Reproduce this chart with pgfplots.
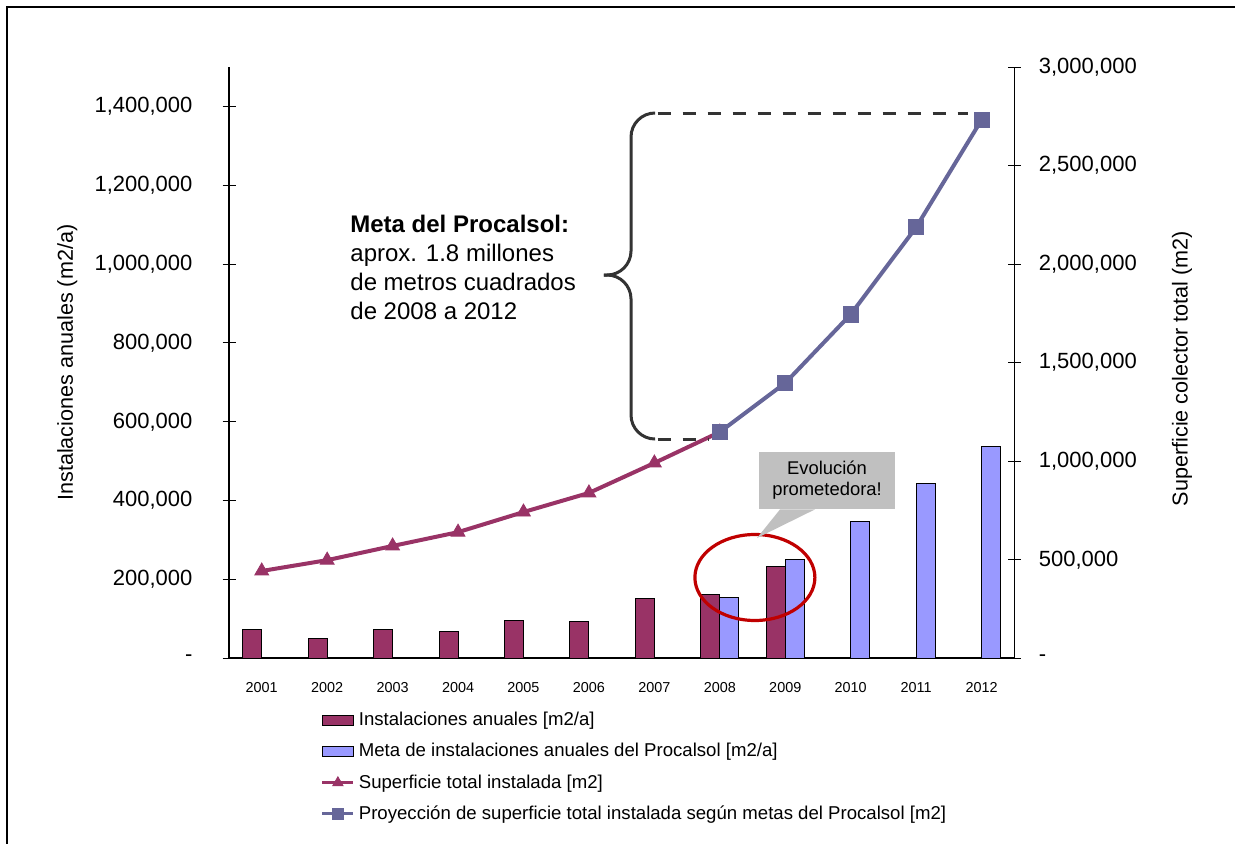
\documentclass[border=0pt]{standalone}
\usepackage{pgfplots}
\usepackage{pgfplotstable}
\pgfplotsset{compat=1.18}
\usepackage{fontspec}
\setmainfont{Liberation Sans}
\definecolor{barA}{HTML}{993366}
\definecolor{barB}{HTML}{9999FF}
\definecolor{lineB}{HTML}{666699}
\definecolor{callg}{HTML}{C0C0C0}
\definecolor{ringred}{HTML}{C00000}
\definecolor{darkg}{HTML}{333333}

\pgfplotstableread{
x inst
0 73600
1 49000
2 73600
3 67500
4 96400
5 93900
6 151000
7 162400
8 231700
}\inst
\pgfplotstableread{
x meta
7 153800
8 249500
9 346700
10 442400
11 538100
}\meta
\pgfplotstableread{
x sup
0 443000
1 498000
2 570000
3 640000
4 742000
5 839000
6 991000
7 1148000
}\sup
\pgfplotstableread{
x proy
7 1148000
8 1397000
9 1745000
10 2187000
11 2732000
}\proy

\pgfplotsset{
 common/.style={
  at={(114.5pt,92.35pt)}, anchor=south west,
  scale only axis, width=392.65pt, height=295.65pt,
  xmin=-0.5, xmax=11.5,
  ytick align=center, major tick length=6.5pt,
  tick style={black, line width=0.5pt},
  scaled y ticks=false,
  /pgf/number format/assume math mode=true,
 }
}

\begin{document}
\begin{tikzpicture}
\useasboundingbox (0,0) rectangle (617.5pt,421.5pt);
\draw[line width=0.8pt] (3.5pt,-20pt) -- (3.5pt,418pt) -- (617.5pt,418pt);

\begin{axis}[common,
  axis x line*=bottom, axis y line*=left,
  axis line style={line width=1pt},
  ymin=0, ymax=1500000,
  ytick={0,200000,400000,600000,800000,1000000,1200000,1400000},
  yticklabels={{-\hspace{7pt}},{200,000},{400,000},{600,000},{800,000},{1,000,000},{1,200,000},{1,400,000}},
  yticklabel style={font=\fontsize{11}{13}\selectfont, xshift=-11.5pt},
  xtick={0,1,2,3,4,5,6,7,8,9,10,11},
  xticklabels={2001,2002,2003,2004,2005,2006,2007,2008,2009,2010,2011,2012},
  xtick style={draw=none},
  minor xtick={-0.5,0.5,1.5,2.5,3.5,4.5,5.5,6.5,7.5,8.5,9.5,10.5,11.5},
  minor tick length=5pt,
  xtick align=center,
  minor x tick style={black, line width=0.5pt},
  xticklabel style={font=\fontsize{7.2}{8}\selectfont, yshift=-2pt},
  ylabel={Instalaciones anuales (m2/a)},
  every axis y label/.style={at={(axis description cs:-0.206,0.5)}, rotate=90, anchor=center, font=\fontsize{10.8}{12}\selectfont},
  ybar=0pt, bar width=9.5pt,
]
\addplot[fill=barA, draw=black, line width=0.5pt] table[x=x,y=inst]{\inst};
\addplot[fill=barB, draw=black, line width=0.5pt] table[x=x,y=meta]{\meta};
\draw[ringred, line width=1.6pt] (axis cs:7.536,205000) ellipse [x radius=30pt, y radius=21.5pt];
\end{axis}

\begin{axis}[common,
  axis x line=none, axis y line*=right,
  axis line style={line width=0.7pt},
  ymin=0, ymax=3000000,
  ytick={0,500000,1000000,1500000,2000000,2500000,3000000},
  yticklabels={-,{500,000},{1,000,000},{1,500,000},{2,000,000},{2,500,000},{3,000,000}},
  yticklabel style={font=\fontsize{11}{13}\selectfont, xshift=5.5pt},
  ylabel={Superficie colector total (m2)},
  every axis y label/.style={at={(axis description cs:1.2135,0.49)}, rotate=90, anchor=center, font=\fontsize{10.8}{12}\selectfont},
  clip=false,
  legend style={at={(axis description cs:0.1165,-0.084)}, anchor=north west, draw=none, fill=none,
    font=\fontsize{9.3}{10.5}\selectfont, row sep=3.3pt, inner sep=0pt},
  legend cell align=left,
]
\addlegendimage{legend image code/.code={\draw[fill=barA, draw=black, line width=0.5pt] (0pt,-2.5pt) rectangle (15.5pt,2.5pt);}}
\addlegendentry{Instalaciones anuales [m2/a]}
\addlegendimage{legend image code/.code={\draw[fill=barB, draw=black, line width=0.5pt] (0pt,-2.5pt) rectangle (15.5pt,2.5pt);}}
\addlegendentry{Meta de instalaciones anuales del Procalsol [m2/a]}
\addlegendimage{legend image code/.code={\draw[barA, line width=1.5pt] (0pt,0pt) -- (15.5pt,0pt); \path plot[mark=triangle*, mark size=3pt, mark options={fill=barA, draw=barA, line width=0.4pt}] coordinates {(7.75pt,0pt)};}}
\addlegendentry{Superficie total instalada [m2]}
\addlegendimage{legend image code/.code={\draw[lineB, line width=1.5pt] (0pt,0pt) -- (15.5pt,0pt); \path plot[mark=square*, mark size=2.6pt, mark options={fill=lineB, draw=lineB, line width=0.4pt}] coordinates {(7.75pt,0pt)};}}
\addlegendentry{Proyección de superficie total instalada según metas del Procalsol [m2]}

\addplot[barA, line width=2pt, mark=triangle*, mark size=4pt, mark options={fill=barA, line width=0.4pt}, forget plot] table[x=x,y=sup]{\sup};
\addplot[lineB, line width=2pt, mark=square*, mark size=3.8pt, mark options={fill=lineB, line width=0.4pt}, forget plot] table[x=x,y=proy]{\proy};

% brace and dashed guides
\draw[darkg, line width=1.5pt, rounded corners=12pt] (axis cs:6.01,2766600) -- (axis cs:5.643,2766600) -- (axis cs:5.643,1944700) -- (axis cs:5.23,1944700);
\draw[darkg, line width=1.5pt, rounded corners=12pt] (axis cs:5.23,1944700) -- (axis cs:5.643,1944700) -- (axis cs:5.643,1112600) -- (axis cs:6.01,1112600);
\draw[darkg, line width=1.5pt, dash pattern=on 6.5pt off 6pt] (axis cs:6.05,2766600) -- (axis cs:10.79,2766600);
\draw[darkg, line width=1.5pt, dash pattern=on 6.5pt off 6pt] (axis cs:6.05,1112600) -- (axis cs:6.82,1112600);

% callout
\node[fill=callg, minimum width=68pt, minimum height=28.5pt, align=center, font=\fontsize{9.2}{10.5}\selectfont, inner sep=0pt] (cb) at (axis cs:8.638,902100) {Evolución\\prometedora!};
\fill[callg] ([xshift=-23.5pt]cb.south) -- (axis cs:7.568,610300) -- ([xshift=-6pt]cb.south) -- cycle;
\end{axis}

\node[anchor=north west, align=left, inner sep=0pt, font=\fontsize{12}{14.5}\selectfont] at (175pt,314pt) {\textbf{Meta del Procalsol:}\\aprox. 1.8 millones\\de metros cuadrados\\de 2008 a 2012};
\end{tikzpicture}
\end{document}
